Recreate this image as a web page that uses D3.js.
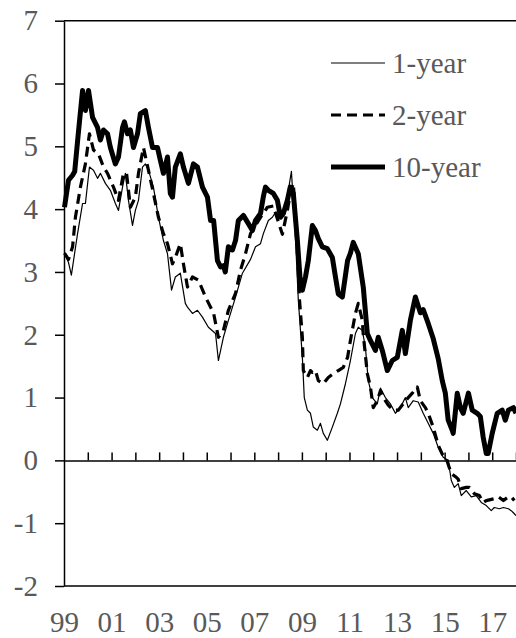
<!DOCTYPE html>
<html>
<head>
<meta charset="utf-8">
<script src="https://cdn.jsdelivr.net/npm/d3@7"></script>
<style>
  body { margin: 0; background: #fff; }
  svg { display: block; }
  text { font-family: "Liberation Serif", "Times New Roman", serif; }
</style>
</head>
<body>
<svg width="516" height="638"></svg>
<script>
// yields in percent as [year, value]
var oneYear = [
  [1999.02, 3.3], [1999.19, 3.15], [1999.31, 2.95], [1999.57, 3.61], [1999.78, 4.09], [1999.9, 4.09],
  [2000.07, 4.67], [2000.24, 4.62], [2000.41, 4.49], [2000.53, 4.57], [2000.74, 4.41], [2000.95, 4.3],
  [2001.16, 4.09], [2001.29, 3.98], [2001.46, 4.35], [2001.58, 4.57], [2001.71, 4.14], [2001.88, 3.74],
  [2002.0, 3.98], [2002.13, 4.14], [2002.3, 4.67], [2002.42, 4.72], [2002.55, 4.62], [2002.76, 4.35],
  [2002.97, 3.87], [2003.18, 3.5], [2003.35, 3.29], [2003.52, 2.71], [2003.68, 2.92], [2003.89, 2.98],
  [2004.1, 2.5], [2004.19, 2.44], [2004.4, 2.34], [2004.61, 2.39], [2004.82, 2.28], [2005.07, 2.12],
  [2005.37, 2.02], [2005.49, 1.59], [2005.7, 1.96], [2005.91, 2.23], [2006.21, 2.6], [2006.5, 2.98],
  [2006.84, 3.2], [2007.05, 3.4], [2007.26, 3.45], [2007.38, 3.61], [2007.59, 3.82], [2007.76, 3.87],
  [2007.89, 3.95], [2008.1, 3.87], [2008.22, 3.95], [2008.43, 4.3], [2008.56, 4.6], [2008.72, 3.61],
  [2008.85, 2.55], [2009.02, 1.64], [2009.1, 1.0], [2009.23, 0.8], [2009.36, 0.75], [2009.48, 0.53],
  [2009.65, 0.48], [2009.78, 0.59], [2009.9, 0.43], [2010.07, 0.32], [2010.28, 0.53], [2010.49, 0.75],
  [2010.62, 0.9], [2010.83, 1.22], [2011.04, 1.59], [2011.25, 2.02], [2011.37, 2.12], [2011.54, 2.07],
  [2011.67, 1.8], [2011.79, 1.27], [2011.96, 1.0], [2012.17, 0.9], [2012.3, 1.15], [2012.51, 1.0],
  [2012.72, 0.9], [2012.93, 0.75], [2013.14, 0.84], [2013.35, 1.0], [2013.47, 0.84], [2013.68, 0.95],
  [2013.89, 0.93], [2014.1, 0.75], [2014.31, 0.59], [2014.52, 0.43], [2014.73, 0.21], [2014.94, 0.05],
  [2015.15, 0.0], [2015.28, -0.32], [2015.41, -0.43], [2015.57, -0.37], [2015.7, -0.56], [2015.91, -0.48],
  [2016.12, -0.58], [2016.33, -0.56], [2016.54, -0.67], [2016.75, -0.72], [2016.96, -0.8], [2017.09, -0.75],
  [2017.3, -0.77], [2017.47, -0.75], [2017.68, -0.77], [2017.8, -0.8], [2017.93, -0.85], [2018.0, -0.88]
];

var twoYear = [
  [1999.02, 3.3], [1999.19, 3.2], [1999.36, 3.4], [1999.48, 3.87], [1999.69, 4.35], [1999.9, 4.72],
  [2000.07, 5.2], [2000.24, 4.94], [2000.45, 4.88], [2000.66, 4.67], [2000.83, 4.57], [2001.08, 4.35],
  [2001.29, 4.14], [2001.5, 4.57], [2001.63, 4.57], [2001.79, 4.03], [2002.0, 4.19], [2002.13, 4.57],
  [2002.34, 4.98], [2002.55, 4.62], [2002.76, 4.25], [2002.97, 3.87], [2003.18, 3.61], [2003.35, 3.45],
  [2003.56, 3.13], [2003.68, 3.23], [2003.89, 3.45], [2004.02, 3.13], [2004.19, 2.76], [2004.4, 2.92],
  [2004.65, 2.87], [2004.95, 2.6], [2005.29, 2.34], [2005.49, 1.96], [2005.7, 2.07], [2005.91, 2.39],
  [2006.21, 2.66], [2006.42, 3.03], [2006.63, 3.29], [2006.84, 3.61], [2007.26, 3.87], [2007.55, 4.03],
  [2007.8, 4.05], [2008.1, 3.69], [2008.18, 3.6], [2008.39, 3.98], [2008.51, 4.25], [2008.64, 4.41],
  [2008.81, 3.34], [2008.9, 2.55], [2009.02, 1.96], [2009.06, 1.43], [2009.23, 1.32], [2009.36, 1.43],
  [2009.44, 1.4], [2009.57, 1.43], [2009.69, 1.27], [2009.9, 1.22], [2010.11, 1.32], [2010.32, 1.38],
  [2010.53, 1.43], [2010.74, 1.48], [2010.92, 1.64], [2011.04, 1.91], [2011.25, 2.34], [2011.37, 2.5],
  [2011.54, 2.23], [2011.58, 2.0], [2011.75, 1.38], [2011.88, 1.17], [2012.0, 0.84], [2012.17, 0.95],
  [2012.3, 1.11], [2012.42, 1.0], [2012.63, 0.88], [2012.84, 0.8], [2013.05, 0.8], [2013.26, 0.9],
  [2013.47, 1.0], [2013.64, 1.07], [2013.85, 1.17], [2013.98, 0.95], [2014.19, 0.84], [2014.31, 0.75],
  [2014.52, 0.53], [2014.73, 0.24], [2014.9, 0.1], [2015.07, 0.03], [2015.19, -0.11], [2015.28, -0.21],
  [2015.49, -0.27], [2015.57, -0.3], [2015.7, -0.45], [2015.91, -0.43], [2016.04, -0.43], [2016.25, -0.53],
  [2016.46, -0.56], [2016.62, -0.67], [2016.75, -0.64], [2017.09, -0.61], [2017.26, -0.58], [2017.47, -0.64],
  [2017.68, -0.58], [2017.8, -0.58], [2017.93, -0.64]
];

var tenYear = [
  [1999.02, 4.03], [1999.19, 4.46], [1999.36, 4.54], [1999.45, 4.6], [1999.6, 5.2], [1999.78, 5.89],
  [1999.9, 5.57], [2000.03, 5.89], [2000.2, 5.46], [2000.41, 5.3], [2000.53, 5.1], [2000.66, 5.26],
  [2000.83, 5.2], [2000.95, 4.98], [2001.16, 4.72], [2001.29, 4.83], [2001.46, 5.3], [2001.54, 5.39],
  [2001.67, 5.2], [2001.79, 5.26], [2001.92, 4.98], [2002.09, 5.2], [2002.21, 5.52], [2002.42, 5.57],
  [2002.55, 5.3], [2002.72, 4.98], [2002.93, 4.98], [2003.05, 4.78], [2003.18, 4.57], [2003.35, 4.83],
  [2003.47, 4.25], [2003.56, 4.19], [2003.68, 4.67], [2003.89, 4.88], [2004.02, 4.67], [2004.23, 4.41],
  [2004.44, 4.72], [2004.61, 4.67], [2004.82, 4.35], [2005.03, 4.19], [2005.16, 3.82], [2005.29, 3.82],
  [2005.45, 3.18], [2005.58, 3.08], [2005.7, 3.1], [2005.78, 3.0], [2005.91, 3.4], [2006.08, 3.35],
  [2006.21, 3.5], [2006.33, 3.82], [2006.54, 3.9], [2006.75, 3.77], [2006.92, 3.66], [2007.05, 3.82],
  [2007.26, 3.93], [2007.38, 4.2], [2007.47, 4.35], [2007.59, 4.3], [2007.8, 4.25], [2007.97, 4.14],
  [2008.1, 3.87], [2008.22, 3.93], [2008.39, 4.14], [2008.51, 4.35], [2008.64, 4.25], [2008.81, 3.5],
  [2008.94, 2.81], [2009.02, 2.71], [2009.15, 2.92], [2009.27, 3.18], [2009.44, 3.74], [2009.57, 3.66],
  [2009.69, 3.53], [2009.86, 3.4], [2010.07, 3.37], [2010.28, 3.23], [2010.41, 2.92], [2010.53, 2.65],
  [2010.7, 2.6], [2010.92, 3.18], [2011.04, 3.3], [2011.16, 3.47], [2011.37, 3.29], [2011.58, 2.76],
  [2011.75, 2.02], [2011.88, 1.91], [2012.09, 1.75], [2012.21, 1.96], [2012.38, 1.75], [2012.59, 1.43],
  [2012.8, 1.59], [2013.01, 1.64], [2013.22, 2.07], [2013.35, 1.7], [2013.56, 2.23], [2013.77, 2.6],
  [2013.98, 2.35], [2014.1, 2.4], [2014.31, 2.18], [2014.52, 1.94], [2014.73, 1.62], [2014.9, 1.27],
  [2015.03, 1.07], [2015.15, 0.64], [2015.32, 0.48], [2015.36, 0.43], [2015.53, 1.07], [2015.66, 0.84],
  [2015.78, 0.75], [2016.0, 1.07], [2016.16, 0.8], [2016.37, 0.75], [2016.5, 0.7], [2016.62, 0.37],
  [2016.75, 0.11], [2016.83, 0.11], [2017.0, 0.43], [2017.21, 0.75], [2017.42, 0.8], [2017.55, 0.64],
  [2017.68, 0.8], [2017.89, 0.84], [2018.0, 0.75]
];

var seriesNames = ['1-year', '2-year', '10-year'];
var yTicks = [-2, -1, 0, 1, 2, 3, 4, 5, 6, 7];
var yearTicks = [2000, 2001, 2002, 2003, 2004, 2005, 2006, 2007, 2008, 2009, 2010, 2011, 2012, 2013, 2014, 2015, 2016, 2017, 2018];
var labelYears = [1999, 2001, 2003, 2005, 2007, 2009, 2011, 2013, 2015, 2017];
var labelText = ['99', '01', '03', '05', '07', '09', '11', '13', '15', '17'];

var svg = d3.select('svg');
var grey = '#595959';

var scaleX = d3.scaleLinear().domain([1999, 2018]).range([64, 516]);
var scaleY = d3.scaleLinear().domain([-2, 7]).range([586, 20.7]);

var line = d3.line()
    .x(function(d){ return scaleX(d[0]); })
    .y(function(d){ return scaleY(d[1]); });

// y axis with the ticks pointing out to the left, plain hyphen for negatives
var yAxis = svg.append('g')
    .attr('transform', 'translate(64,0)')
    .call(d3.axisLeft(scaleY).tickValues(yTicks).tickSize(9).tickSizeOuter(0).tickPadding(17)
        .tickFormat(function(d){ return String(d); }));
yAxis.selectAll('path, line').attr('stroke', '#000').attr('stroke-width', 1.5);
yAxis.selectAll('text').attr('fill', grey).style('font-size', '29px');

// top and bottom frame lines
svg.append('line').attr('x1', 64).attr('x2', 516).attr('y1', scaleY(7)).attr('y2', scaleY(7))
    .attr('stroke', '#000').attr('stroke-width', 1.5);
svg.append('line').attr('x1', 64).attr('x2', 516).attr('y1', scaleY(-2)).attr('y2', scaleY(-2))
    .attr('stroke', '#000').attr('stroke-width', 1.5);

// zero line with the year ticks sticking up
var zeroAxis = svg.append('g')
    .attr('transform', 'translate(0,' + scaleY(0) + ')')
    .call(d3.axisTop(scaleX).tickValues(yearTicks).tickSize(8).tickSizeOuter(0).tickFormat(''));
zeroAxis.selectAll('path, line').attr('stroke', '#000').attr('stroke-width', 1.5);

// year labels under the frame
var xLabels = svg.append('g')
    .attr('transform', 'translate(0,' + scaleY(-2) + ')')
    .call(d3.axisBottom(scaleX).tickValues(labelYears).tickSize(0).tickPadding(25)
        .tickFormat(function(d, i){ return labelText[i]; }));
xLabels.select('.domain').remove();
xLabels.selectAll('text').attr('fill', grey).style('font-size', '29px');

var styles = [
    {width: 1.2, dash: null},
    {width: 3.2, dash: '10,6'},
    {width: 5, dash: null}
];

[oneYear, twoYear, tenYear].forEach(function(data, i){
    svg.append('path')
        .datum(data)
        .attr('d', line)
        .attr('fill', 'none')
        .attr('stroke', '#000')
        .attr('stroke-width', styles[i].width)
        .attr('stroke-dasharray', styles[i].dash)
        .attr('stroke-linejoin', 'round');
});

// legend
var legend = svg.append('g');
seriesNames.forEach(function(name, i){
    var ly = 63 + i * 52;
    legend.append('line')
        .attr('x1', 331).attr('x2', 385).attr('y1', ly).attr('y2', ly)
        .attr('stroke', '#000')
        .attr('stroke-width', styles[i].width)
        .attr('stroke-dasharray', styles[i].dash);
    legend.append('text')
        .attr('x', 392).attr('y', ly + 10)
        .attr('fill', grey)
        .style('font-size', '29px')
        .text(name);
});
</script>
</body>
</html>
